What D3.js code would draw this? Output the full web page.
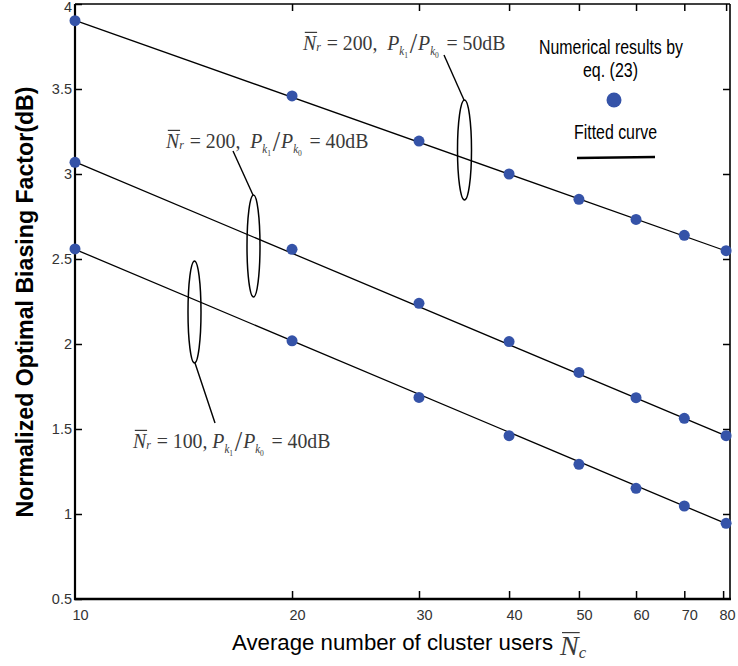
<!DOCTYPE html>
<html><head><meta charset="utf-8">
<script src="https://cdn.jsdelivr.net/npm/d3@7"></script>
<style>body{margin:0;background:#fff}</style>
</head><body>
<svg id="c" width="738" height="666"></svg>
<script>
// ---- data ----
const xValues = [10, 20, 30, 40, 50, 60, 70, 80];
const seriesNr200_50dB = [3.902, 3.459, 3.194, 3.000, 2.851, 2.733, 2.639, 2.549];
const seriesNr200_40dB = [3.069, 2.557, 2.239, 2.014, 1.833, 1.684, 1.563, 1.461];
const seriesNr100_40dB = [2.559, 2.019, 1.686, 1.461, 1.292, 1.151, 1.047, 0.945];
const fitX = [10, 80];
const fitNr200_50dB = [3.904, 2.547];
const fitNr200_40dB = [3.071, 1.459];
const fitNr100_40dB = [2.557, 0.943];
const xTicks = [10, 20, 30, 40, 50, 60, 70, 80];
const yTicks = [0.5, 1, 1.5, 2, 2.5, 3, 3.5, 4];

const svg = d3.select('#c');
const L = 75, R = 730, T = 4, B = 599;
const x = d3.scaleLog().domain([10, 81]).range([L, R]);
const y = d3.scaleLinear().domain([0.5, 4]).range([B, T]);
const SANS = 'Arial, "Liberation Sans", Helvetica, sans-serif';
const SERIF = '"Liberation Serif", "Times New Roman", Times, serif';
const dotColor = '#3553a8';

// axes (ticks inward)
const gL = svg.append('g').attr('transform', `translate(${L},0)`)
  .call(d3.axisLeft(y).tickValues(yTicks).tickSize(-7).tickPadding(3).tickFormat(d3.format('')));
const gB = svg.append('g').attr('transform', `translate(0,${B})`)
  .call(d3.axisBottom(x).tickValues(xTicks).tickSize(-8).tickPadding(11).tickFormat(d3.format('')));
const gT = svg.append('g').attr('transform', `translate(0,${T})`)
  .call(d3.axisTop(x).tickValues(xTicks.slice(1)).tickSize(-7).tickFormat(''));
const gR = svg.append('g').attr('transform', `translate(${R},0)`)
  .call(d3.axisRight(y).tickValues(yTicks.slice(1, -1)).tickSize(-7).tickFormat(''));
[gL, gB, gT, gR].forEach(g => {
  g.select('.domain').remove();
  g.selectAll('.tick line').attr('stroke', '#000').attr('stroke-width', 1.5);
  g.selectAll('.tick text').attr('fill', '#333').style('font-family', SANS).style('font-size', '14.5px');
});
gB.selectAll('.tick text').attr('dx', 5);
gB.selectAll('.tick').filter(d => d === 80).select('text').attr('dx', 1);
gB.selectAll('.tick').filter(d => d === 80).select('line').attr('x1', -3).attr('x2', -3);
gB.selectAll('.tick').filter(d => d === 10).select('line').remove();
gL.selectAll('.tick').filter(d => d === 4).select('text').attr('dy', '0.55em');

// frame
svg.append('line').attr('x1', L).attr('x2', L).attr('y1', T).attr('y2', B + 1).attr('stroke', '#000').attr('stroke-width', 2.2);
svg.append('line').attr('x1', L - 1).attr('x2', R + 1).attr('y1', B).attr('y2', B).attr('stroke', '#000').attr('stroke-width', 2.5);
svg.append('line').attr('x1', L).attr('x2', R).attr('y1', T).attr('y2', T).attr('stroke', '#000').attr('stroke-width', 1.6);
svg.append('line').attr('x1', R).attr('x2', R).attr('y1', T).attr('y2', B).attr('stroke', '#000').attr('stroke-width', 1.6);

// fitted lines
const line = d3.line().x(d => x(d[0])).y(d => y(d[1]));
[fitNr200_50dB, fitNr200_40dB, fitNr100_40dB].forEach(f => {
  svg.append('path').datum(fitX.map((v, i) => [v, f[i]])).attr('d', line)
    .attr('fill', 'none').attr('stroke', '#000').attr('stroke-width', 1.3);
});
// points
[seriesNr200_50dB, seriesNr200_40dB, seriesNr100_40dB].forEach(s => {
  svg.append('g').selectAll('circle').data(xValues.map((v, i) => [v, s[i]])).join('circle')
    .attr('cx', d => x(d[0])).attr('cy', d => y(d[1])).attr('r', 5.5).attr('fill', dotColor);
});

// ellipses + leaders
function ell(cx, cy, rx, ry) {
  svg.append('ellipse').attr('cx', cx).attr('cy', cy).attr('rx', rx).attr('ry', ry)
    .attr('fill', 'none').attr('stroke', '#000').attr('stroke-width', 1.5);
}
function lead(x1, y1, x2, y2) {
  svg.append('line').attr('x1', x1).attr('y1', y1).attr('x2', x2).attr('y2', y2)
    .attr('stroke', '#000').attr('stroke-width', 1.4);
}
ell(464.5, 150, 7, 50); lead(444, 55, 464, 100);
ell(253.5, 246, 6.5, 51); lead(233, 151, 253, 195);
ell(194.5, 312, 6.5, 51); lead(195, 363, 215, 423);

// math-like annotations
function mathText(x0, y0, pieces, fs, sx) {
  sx = sx || 1;
  const g = svg.append('g').attr('transform', `translate(${x0},${y0}) scale(${sx},1)`);
  let cx = 0;
  pieces.forEach(p => {
    const size = fs * (p.s || 1);
    const t = g.append('text').attr('x', cx).attr('y', (p.dy || 0))
      .attr('fill', '#3a3a3a').style('font-family', SERIF).style('font-size', size + 'px')
      .style('font-style', p.i ? 'italic' : 'normal').attr('xml:space', 'preserve').text(p.t);
    const w = t.node().getComputedTextLength();
    if (p.ol) {
      g.append('line').attr('x1', cx + 2).attr('x2', cx + w + 1).attr('y1', -size * 0.8).attr('y2', -size * 0.8)
        .attr('stroke', '#3a3a3a').attr('stroke-width', 1.2);
    }
    cx += w + (p.gap || 0);
  });
}
function ratioPieces(nr, db, sp) {
  return [
    {t: 'N', i: 1, ol: 1}, {t: 'r', i: 1, s: 0.6, dy: 1, gap: 1},
    {t: ' = ' + nr + ',' + sp, gap: 0},
    {t: 'P', i: 1}, {t: 'k', i: 1, s: 0.55, dy: 5}, {t: '1', s: 0.38, dy: 8, gap: 2},
    {t: '/', s: 1.35, dy: 3, gap: 1},
    {t: 'P', i: 1}, {t: 'k', i: 1, s: 0.55, dy: 5}, {t: '0', s: 0.38, dy: 8, gap: 3},
    {t: ' = ' + db + 'dB'}
  ];
}
mathText(303, 50, ratioPieces('200', '50', '  '), 22, 0.9);
mathText(166, 148, ratioPieces('200', '40', '  '), 22, 0.9);
mathText(133, 448, ratioPieces('100', '40', ' '), 22, 0.9);

// legend
svg.append('text').attr('x', 539).attr('y', 54).attr('textLength', 144).attr('lengthAdjust', 'spacingAndGlyphs')
  .style('font-family', SANS).style('font-size', '20px').attr('fill', '#000').text('Numerical results by');
svg.append('text').attr('x', 583).attr('y', 77).attr('textLength', 55).attr('lengthAdjust', 'spacingAndGlyphs')
  .style('font-family', SANS).style('font-size', '20px').attr('fill', '#000').text('eq. (23)');
svg.append('circle').attr('cx', 614).attr('cy', 100).attr('r', 7.5).attr('fill', dotColor);
svg.append('text').attr('x', 574).attr('y', 139).attr('textLength', 83).attr('lengthAdjust', 'spacingAndGlyphs')
  .style('font-family', SANS).style('font-size', '20px').attr('fill', '#000').text('Fitted curve');
svg.append('line').attr('x1', 577).attr('x2', 655).attr('y1', 158).attr('y2', 157).attr('stroke', '#000').attr('stroke-width', 2.5);

// axis titles
svg.append('text').attr('transform', 'translate(33,302) rotate(-90)').attr('text-anchor', 'middle')
  .attr('textLength', 431).attr('lengthAdjust', 'spacingAndGlyphs')
  .style('font-family', SANS).style('font-size', '23px').style('font-weight', 'bold').attr('fill', '#000')
  .text('Normalized Optimal Biasing Factor(dB)');
svg.append('text').attr('x', 232).attr('y', 650).attr('textLength', 321).attr('lengthAdjust', 'spacingAndGlyphs')
  .style('font-family', SANS).style('font-size', '22px').attr('fill', '#000').text('Average number of cluster users');
mathText(560, 655, [{t: 'N', i: 1, ol: 1}, {t: 'c', i: 1, s: 0.6, dy: 3}], 28, 1);
</script>
</body></html>
